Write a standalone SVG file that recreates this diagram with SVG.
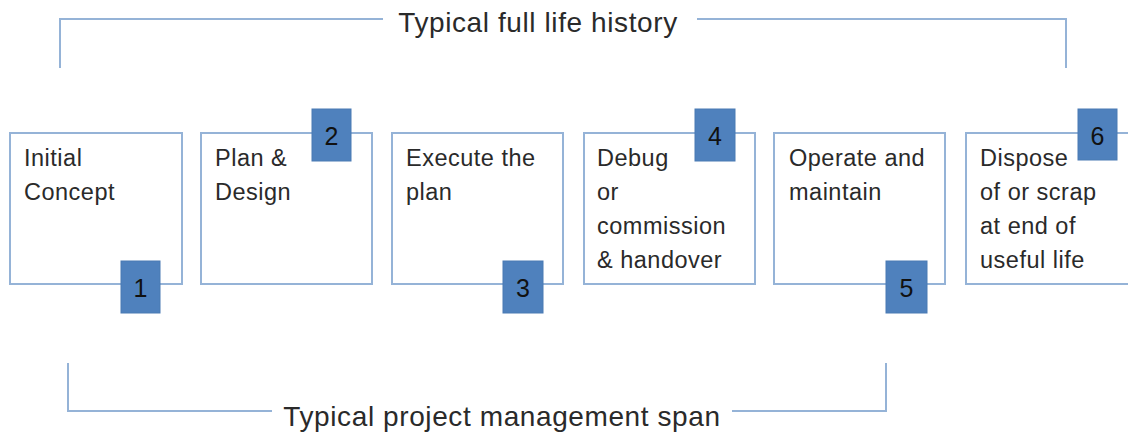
<svg xmlns="http://www.w3.org/2000/svg" width="1128" height="435" viewBox="0 0 1128 435">
<style>
.box{fill:#fff;stroke:#95b3d7;stroke-width:2}
.num{fill:#4f81bd;stroke:#4a7ab3;stroke-width:1}
.nt{font-family:"Liberation Sans",Arial,sans-serif;font-size:25px;fill:#111;text-anchor:middle}
.bt{font-family:"Liberation Sans",Arial,sans-serif;font-size:23.5px;letter-spacing:0.5px;fill:#2a2a2a}
.lt{font-family:"Liberation Sans",Arial,sans-serif;font-size:28px;letter-spacing:0.6px;fill:#2a2a2a;text-anchor:middle}
.br{fill:none;stroke:#95b3d7;stroke-width:2}
</style>
<rect width="1128" height="435" fill="#fff"/>
<g id="connectors">
<path class="br" d="M60,68 V19 H383 M697,19 H1066 V68"/>
<path class="br" d="M68,363 V411 H272 M732,411 H886 V363"/>
</g>
<text class="lt" x="538" y="32">Typical full life history</text>
<text class="lt" x="502" y="426">Typical project management span</text>
<g id="n1">
<rect class="box" x="10" y="133" width="172" height="151"/>
<text class="bt" x="24" y="166">Initial</text>
<text class="bt" x="24" y="200">Concept</text>
<rect class="num" x="121" y="261" width="39" height="52"/>
<text class="nt" x="140.5" y="297">1</text>
</g>
<g id="n2">
<rect class="box" x="201" y="133" width="171" height="151"/>
<text class="bt" x="215" y="166">Plan &amp;</text>
<text class="bt" x="215" y="200">Design</text>
<rect class="num" x="312" y="109" width="39" height="52"/>
<text class="nt" x="331.5" y="145">2</text>
</g>
<g id="n3">
<rect class="box" x="392" y="133" width="171" height="151"/>
<text class="bt" x="406" y="166">Execute the</text>
<text class="bt" x="406" y="200">plan</text>
<rect class="num" x="503" y="261" width="40" height="52"/>
<text class="nt" x="523" y="297">3</text>
</g>
<g id="n4">
<rect class="box" x="584" y="133" width="171" height="151"/>
<text class="bt" x="597" y="166">Debug</text>
<text class="bt" x="597" y="200">or</text>
<text class="bt" x="597" y="234">commission</text>
<text class="bt" x="597" y="268">&amp; handover</text>
<rect class="num" x="695" y="109" width="40" height="52"/>
<text class="nt" x="715" y="145">4</text>
</g>
<g id="n5">
<rect class="box" x="774" y="133" width="171" height="151"/>
<text class="bt" x="789" y="166">Operate and</text>
<text class="bt" x="789" y="200">maintain</text>
<rect class="num" x="886" y="261" width="41" height="52"/>
<text class="nt" x="906.5" y="297">5</text>
</g>
<g id="n6">
<rect class="box" x="966" y="133" width="171" height="151"/>
<text class="bt" x="980" y="166">Dispose</text>
<text class="bt" x="980" y="200">of or scrap</text>
<text class="bt" x="980" y="234">at end of</text>
<text class="bt" x="980" y="268">useful life</text>
<rect class="num" x="1078" y="109" width="39" height="51"/>
<text class="nt" x="1097.5" y="145">6</text>
</g>
</svg>
